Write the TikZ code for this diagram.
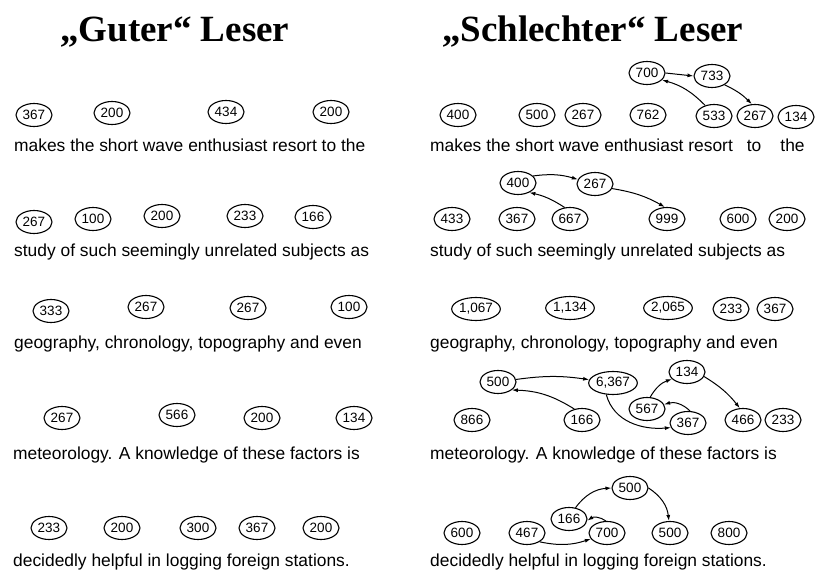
\documentclass[tikz,border=0pt]{standalone}
\usepackage{fontspec}
\setmainfont{Liberation Serif}
\setsansfont{Liberation Sans}
\usetikzlibrary{shapes.geometric,arrows.meta}
\tikzset{
 num/.style={ellipse, draw, line width=1.1pt, inner sep=0.3pt, minimum width=36pt, minimum height=23pt, font=\sffamily\fontsize{13.5}{13.5}\selectfont},
 txtline/.style={anchor=base west, inner sep=0pt, font=\sffamily\fontsize{17.4}{17.4}\selectfont},
 ttl/.style={anchor=base west, inner sep=0pt, font=\rmfamily\bfseries\fontsize{37}{37}\selectfont},
 arr/.style={-{Latex[length=6pt,width=4pt]}, line width=1pt},
}
\begin{document}
\begin{tikzpicture}[x=1pt,y=-1pt]
\useasboundingbox (0,0) rectangle (817,572);
% titles
\node[ttl] (tg) at (60,42) {„Guter“ Leser};
\node[ttl] (ts) at (442,42) {„Schlechter“ Leser};
% ---------------- left ----------------
\node[num] (la1) at (34,115) {367};
\node[num] (la2) at (112,113) {200};
\node[num] (la3) at (226,112) {434};
\node[num] (la4) at (331,112) {200};
\node[txtline] (lt1) at (14,152) {makes the short wave enthusiast resort to the};
\node[num] (lb1) at (34,222) {267};
\node[num] (lb2) at (93,219) {100};
\node[num] (lb3) at (162,216) {200};
\node[num] (lb4) at (245,216) {233};
\node[num] (lb5) at (313,217) {166};
\node[txtline] (lt2) at (14,257) {study of such seemingly unrelated subjects as};
\node[num] (lc1) at (51,311) {333};
\node[num] (lc2) at (146,307) {267};
\node[num] (lc3) at (248,308) {267};
\node[num] (lc4) at (349,307) {100};
\node[txtline] (lt3) at (14,348) {geography, chronology, topography and even};
\node[num] (ld1) at (62,418) {267};
\node[num] (ld2) at (177,415) {566};
\node[num] (ld3) at (262,418) {200};
\node[num] (ld4) at (354,418) {134};
\node[txtline] (lt4) at (13,459) {meteorology. A knowledge of these factors is};
\node[num] (le1) at (49,528) {233};
\node[num] (le2) at (122,528) {200};
\node[num] (le3) at (198,528) {300};
\node[num] (le4) at (257,528) {367};
\node[num] (le5) at (321,528) {200};
\node[txtline] (lt5) at (13,566) {decidedly helpful in logging foreign stations.};
% ---------------- right ----------------
\node[num] (ra700) at (647,73) {700};
\node[num] (ra733) at (712,76) {733};
\node[num] (ra1) at (458,115) {400};
\node[num] (ra2) at (537,115) {500};
\node[num] (ra3) at (583,115) {267};
\node[num] (ra4) at (648,115) {762};
\node[num] (ra5) at (714,116) {533};
\node[num] (ra6) at (755,116) {267};
\node[num] (ra7) at (796,117) {134};
\node[txtline] (rt1) at (430,152) {makes the short wave enthusiast resort\hspace{0.8em}to\hspace{1.1em}the};
\draw[arr] (ra700.east) -- (ra733.west);
\draw[arr] (ra733.-35) to[bend left=10] (ra6.105);
\draw[arr] (ra5.130) to[bend right=15] (ra700.-25);
%
\node[num] (rb400) at (518,183) {400};
\node[num] (rb267) at (595,184) {267};
\node[num] (rb1) at (452,219) {433};
\node[num] (rb2) at (517,219) {367};
\node[num] (rb3) at (570,219) {667};
\node[num] (rb4) at (667,219) {999};
\node[num] (rb5) at (738,219) {600};
\node[num] (rb6) at (787,219) {200};
\node[txtline] (rt2) at (430,257) {study of such seemingly unrelated subjects as};
\draw[arr] (rb400.25) to[bend left=12] (rb267.165);
\draw[arr] (rb3.115) to[bend right=10] (rb400.-40);
\draw[arr] (rb267.-15) to[bend left=10] (rb4.100);
%
\node[num] (rc1) at (476,309) {1,067};
\node[num] (rc2) at (570,308) {1,134};
\node[num] (rc3) at (668,308) {2,065};
\node[num] (rc4) at (731,309) {233};
\node[num] (rc5) at (775,309) {367};
\node[txtline] (rt3) at (430,348) {geography, chronology, topography and even};
%
\node[num] (rd500) at (498,382) {500};
\node[num] (rd6367) at (613,383) {6,367};
\node[num] (rd134) at (687,372) {134};
\node[num] (rd567) at (647,409) {567};
\node[num] (rd1) at (472,420) {866};
\node[num] (rd2) at (582,420) {166};
\node[num] (rd367) at (688,423) {367};
\node[num] (rd4) at (743,420) {466};
\node[num] (rd5) at (783,420) {233};
\node[txtline] (rt4) at (430,459) {meteorology. A knowledge of these factors is};
\draw[arr] (rd500.8) to[bend left=8] (rd6367.172);
\draw[arr] (rd2.125) to[bend right=15] (rd500.-30);
\draw[arr] (rd6367.-120) to[out=-75,in=185] (rd367.195);
\draw[arr] (rd567.75) to[bend left=20] (rd134.205);
\draw[arr] (rd367.80) to[bend right=30] (rd567.15);
\draw[arr] (rd134.-15) to[bend left=10] (rd4.105);
%
\node[num] (re500) at (630,488) {500};
\node[num] (re166) at (569,519) {166};
\node[num] (re1) at (462,533) {600};
\node[num] (re467) at (527,533) {467};
\node[num] (re700) at (607,533) {700};
\node[num] (re500b) at (670,533) {500};
\node[num] (re5) at (729,533) {800};
\node[txtline] (rt5) at (430,566) {decidedly helpful in logging foreign stations.};
\draw[arr] (re166.60) to[bend left=25] (re500.180);
\draw[arr] (re500.0) to[bend left=25] (re500b.95);
\draw[arr] (re700.95) to[bend right=35] (re166.-5);
\draw[arr] (re467.-35) to[bend right=15] (re700.200);
\end{tikzpicture}
\end{document}
